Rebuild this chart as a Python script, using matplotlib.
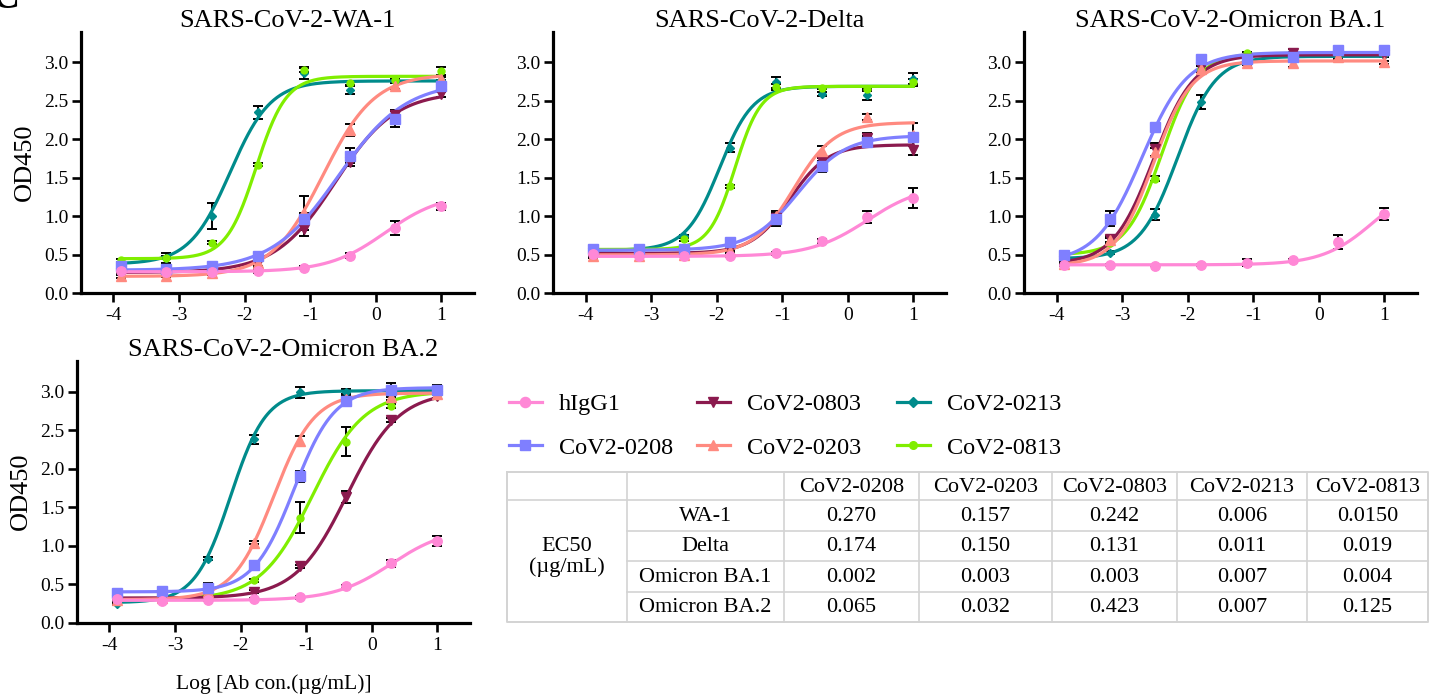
import numpy as np
import matplotlib
matplotlib.use("Agg")
import matplotlib.pyplot as plt
from matplotlib.lines import Line2D

plt.rcParams['font.family'] = ['Liberation Serif', 'DejaVu Serif']

# ---------------- data ----------------
conc = [0.000128, 0.00064, 0.0032, 0.016, 0.08, 0.4, 2.0, 10.0]   # ug/mL
series = ["hIgG1", "CoV2-0208", "CoV2-0803", "CoV2-0203", "CoV2-0213", "CoV2-0813"]
panels = ["SARS-CoV-2-WA-1", "SARS-CoV-2-Delta", "SARS-CoV-2-Omicron BA.1", "SARS-CoV-2-Omicron BA.2"]

# OD450 means per panel, per series (order as `series`)
wa1_y = [
    [0.29, 0.28, 0.28, 0.29, 0.33, 0.49, 0.85, 1.13],
    [0.35, 0.32, 0.35, 0.48, 0.97, 1.79, 2.27, 2.69],
    [0.27, 0.27, 0.28, 0.39, 0.83, 1.71, 2.32, 2.59],
    [0.22, 0.23, 0.26, 0.39, 1.04, 2.12, 2.69, 2.79],
    [0.37, 0.46, 1.00, 2.35, 2.86, 2.64, 2.76, 2.77],
    [0.43, 0.46, 0.66, 1.67, 2.90, 2.73, 2.77, 2.89],
]
wa1_err = [
    [0.02, 0.02, 0.02, 0.02, 0.02, 0.03, 0.09, 0.05],
    [0.02, 0.02, 0.02, 0.04, 0.08, 0.10, 0.11, 0.08],
    [0.02, 0.02, 0.02, 0.05, 0.08, 0.05, 0.05, 0.04],
    [0.02, 0.02, 0.02, 0.03, 0.22, 0.08, 0.04, 0.05],
    [0.02, 0.06, 0.17, 0.09, 0.08, 0.05, 0.03, 0.04],
    [0.02, 0.02, 0.02, 0.02, 0.03, 0.02, 0.02, 0.05],
]
delta_y = [
    [0.51, 0.48, 0.48, 0.48, 0.52, 0.68, 0.99, 1.24],
    [0.58, 0.57, 0.58, 0.67, 0.97, 1.65, 1.97, 2.03],
    [0.52, 0.52, 0.53, 0.57, 0.98, 1.72, 2.02, 1.86],
    [0.48, 0.48, 0.50, 0.55, 1.00, 1.85, 2.29, 2.06],
    [0.47, 0.56, 0.74, 1.89, 2.74, 2.59, 2.58, 2.79],
    [0.50, 0.50, 0.70, 1.39, 2.68, 2.67, 2.66, 2.74],
]
delta_err = [
    [0.01, 0.01, 0.01, 0.01, 0.02, 0.02, 0.08, 0.13],
    [0.02, 0.02, 0.02, 0.02, 0.10, 0.07, 0.07, 0.05],
    [0.01, 0.01, 0.01, 0.02, 0.05, 0.04, 0.06, 0.06],
    [0.01, 0.01, 0.01, 0.02, 0.04, 0.07, 0.04, 0.15],
    [0.01, 0.01, 0.02, 0.06, 0.07, 0.03, 0.07, 0.07],
    [0.01, 0.01, 0.02, 0.02, 0.04, 0.02, 0.03, 0.04],
]
ba1_y = [
    [0.37, 0.37, 0.36, 0.37, 0.40, 0.43, 0.67, 1.03],
    [0.50, 0.97, 2.16, 3.04, 3.04, 3.07, 3.16, 3.16],
    [0.42, 0.71, 1.87, 2.94, 3.04, 3.12, 3.10, 3.10],
    [0.38, 0.69, 1.84, 2.92, 2.99, 2.99, 3.07, 3.00],
    [0.40, 0.53, 1.02, 2.49, 3.06, 3.12, 3.10, 3.10],
    [0.50, 0.65, 1.49, 2.92, 3.12, 3.10, 3.12, 3.12],
]
ba1_err = [
    [0.01, 0.01, 0.01, 0.01, 0.05, 0.02, 0.09, 0.08],
    [0.02, 0.10, 0.03, 0.05, 0.02, 0.06, 0.03, 0.03],
    [0.02, 0.04, 0.08, 0.05, 0.02, 0.05, 0.03, 0.03],
    [0.02, 0.03, 0.05, 0.04, 0.02, 0.05, 0.02, 0.02],
    [0.01, 0.02, 0.07, 0.09, 0.02, 0.05, 0.03, 0.03],
    [0.01, 0.02, 0.03, 0.03, 0.02, 0.03, 0.02, 0.02],
]
ba2_y = [
    [0.31, 0.28, 0.29, 0.31, 0.33, 0.47, 0.77, 1.06],
    [0.38, 0.41, 0.45, 0.75, 1.90, 2.88, 3.02, 3.02],
    [0.30, 0.32, 0.36, 0.40, 0.73, 1.63, 2.63, 2.94],
    [0.30, 0.32, 0.40, 1.04, 2.36, 2.90, 2.93, 2.97],
    [0.24, 0.31, 0.83, 2.38, 2.99, 3.00, 3.00, 3.01],
    [0.28, 0.30, 0.35, 0.55, 1.36, 2.35, 2.81, 2.94],
]
ba2_err = [
    [0.01, 0.01, 0.01, 0.01, 0.02, 0.02, 0.05, 0.07],
    [0.02, 0.02, 0.07, 0.03, 0.07, 0.05, 0.09, 0.07],
    [0.01, 0.01, 0.03, 0.02, 0.02, 0.08, 0.02, 0.03],
    [0.01, 0.01, 0.02, 0.02, 0.06, 0.04, 0.04, 0.05],
    [0.01, 0.01, 0.02, 0.06, 0.07, 0.03, 0.06, 0.05],
    [0.01, 0.01, 0.02, 0.02, 0.20, 0.19, 0.03, 0.03],
]

# EC50 table (ug/mL) as printed
ec50_cols = ["CoV2-0208", "CoV2-0203", "CoV2-0803", "CoV2-0213", "CoV2-0813"]
ec50_rows = ["WA-1", "Delta", "Omicron BA.1", "Omicron BA.2"]
ec50_text = [
    ["0.270", "0.157", "0.242", "0.006", "0.0150"],
    ["0.174", "0.150", "0.131", "0.011", "0.019"],
    ["0.002", "0.003", "0.003", "0.007", "0.004"],
    ["0.065", "0.032", "0.423", "0.007", "0.125"],
]

# 4PL fit parameters (bottom, top, EC50 ug/mL, hill), order as `series`
wa1_fit = [(0.28, 1.30, 1.41, 1.0), (0.30, 2.75, 0.270, 0.85), (0.27, 2.62, 0.242, 0.95),
           (0.22, 2.85, 0.157, 1.1), (0.38, 2.76, 0.006, 1.4), (0.45, 2.82, 0.015, 1.9)]
delta_fit = [(0.48, 1.42, 2.0, 1.0), (0.56, 2.05, 0.174, 1.2), (0.52, 1.93, 0.131, 1.5),
             (0.50, 2.22, 0.150, 1.4), (0.56, 2.69, 0.011, 1.7), (0.57, 2.69, 0.019, 2.2)]
ba1_fit = [(0.37, 1.50, 7.1, 1.1), (0.40, 3.13, 0.002, 1.25), (0.38, 3.10, 0.003, 1.4),
           (0.36, 3.02, 0.003, 1.5), (0.45, 3.08, 0.007, 1.5), (0.50, 3.12, 0.004, 1.6)]
ba2_fit = [(0.29, 1.24, 2.0, 1.0), (0.40, 3.05, 0.065, 1.4), (0.32, 3.00, 0.423, 1.1),
           (0.30, 2.98, 0.032, 1.4), (0.26, 3.01, 0.007, 1.6), (0.30, 3.00, 0.125, 1.1)]

panel_y = [wa1_y, delta_y, ba1_y, ba2_y]
panel_err = [wa1_err, delta_err, ba1_err, ba2_err]
panel_fit = [wa1_fit, delta_fit, ba1_fit, ba2_fit]

# ---------------- styles ----------------
colors = {"hIgG1": "#FF88D6", "CoV2-0208": "#7F7FFF", "CoV2-0803": "#8B1A4E",
          "CoV2-0203": "#FF8A80", "CoV2-0213": "#008B8B", "CoV2-0813": "#80EE00"}
markers = {"hIgG1": "o", "CoV2-0208": "s", "CoV2-0803": "v",
           "CoV2-0203": "^", "CoV2-0213": "D", "CoV2-0813": "o"}
msizes = {"hIgG1": 6.8, "CoV2-0208": 6.8, "CoV2-0803": 6.8,
          "CoV2-0203": 6.8, "CoV2-0213": 4.2, "CoV2-0813": 5.0}
draw_order = ["CoV2-0213", "CoV2-0813", "CoV2-0803", "CoV2-0203", "CoV2-0208", "hIgG1"]

W, H = 1438, 698
fig = plt.figure(figsize=(W / 100, H / 100), dpi=100)

def px_axes(l, t, r, b):
    return fig.add_axes([l / W, 1 - b / H, (r - l) / W, (b - t) / H])

boxes = [(80.7, 31.7, 474, 293.3), (553, 31.7, 946, 293.3),
         (1024, 31.7, 1417, 293.3), (76.7, 360.7, 470, 622.7)]

logx = np.log10(conc)
xs = np.linspace(logx[0], logx[-1], 300)

def four_pl(x, b, t, ec, h):
    return b + (t - b) / (1 + 10 ** ((np.log10(ec) - x) * h))

for i, (title, box) in enumerate(zip(panels, boxes)):
    ax = px_axes(*box)
    for s in draw_order:
        k = series.index(s)
        y = panel_y[i][k]
        e = panel_err[i][k]
        b, t, ec, h = panel_fit[i][k]
        ax.errorbar(logx, y, yerr=e, fmt='none', ecolor='black', elinewidth=1.4,
                    capsize=3.8, capthick=1.4, zorder=2)
        ax.plot(xs, four_pl(xs, b, t, ec, h), color=colors[s], lw=2.3, zorder=3)
        ax.plot(logx, y, linestyle='none', marker=markers[s], ms=msizes[s],
                color=colors[s], mec=colors[s], zorder=4)
    ax.set_xlim(-4.5, 1.5)
    ax.set_ylim(0, 3.4)
    ax.set_xticks([-4, -3, -2, -1, 0, 1])
    ax.set_xticklabels(["-4", "-3", "-2", "-1", "0", "1"])
    ax.set_yticks([0, 0.5, 1.0, 1.5, 2.0, 2.5, 3.0])
    ax.set_yticklabels(["0.0", "0.5", "1.0", "1.5", "2.0", "2.5", "3.0"])
    for sp in ["top", "right"]:
        ax.spines[sp].set_visible(False)
    for sp in ["left", "bottom"]:
        ax.spines[sp].set_linewidth(2.3)
    ax.tick_params(axis='both', length=6.5, width=1.9, labelsize=14)
    ax.tick_params(axis='y', pad=2.5)
    ax.tick_params(axis='x', pad=3.5)
    ax.set_title(title, fontsize=19, pad=1.5, x=0.525)
    if i in (0, 3):
        ax.set_ylabel("OD450", fontsize=19, labelpad=6)
    if i == 3:
        ax.set_xlabel("Log [Ab con.(\u00b5g/mL)]", fontsize=15.5, labelpad=15)

# ---------------- legend (3 columns) ----------------
handles = {s: Line2D([], [], color=colors[s], lw=2.3, marker=markers[s],
                     ms=msizes[s] + 0.5) for s in series}
legend_cols = [["hIgG1", "CoV2-0208"], ["CoV2-0803", "CoV2-0203"], ["CoV2-0213", "CoV2-0813"]]
legend_x = [509, 697, 897]
for names, lx in zip(legend_cols, legend_x):
    leg = fig.legend([handles[n] for n in names], names, loc='upper left',
                     bbox_to_anchor=(lx / W, 1 - 393 / H), frameon=False,
                     fontsize=17.5, handlelength=1.35, handletextpad=0.7,
                     labelspacing=0.9, borderpad=0, borderaxespad=0)

# ---------------- EC50 table ----------------
tax = fig.add_axes([0, 0, 1, 1], facecolor='none')
tax.set_xlim(0, W)
tax.set_ylim(H, 0)
tax.axis('off')
col_x = [507, 627, 784, 919, 1052, 1177, 1307, 1428]
row_y = [472, 500, 530.5, 561, 591.5, 622]
gc = "#D3D3D3"
lw = 1.2
# outer border
tax.plot([col_x[0], col_x[-1], col_x[-1], col_x[0], col_x[0]],
         [row_y[0], row_y[0], row_y[-1], row_y[-1], row_y[0]], color=gc, lw=1.4)
for cx in col_x[1:-1]:
    tax.plot([cx, cx], [row_y[0], row_y[-1]], color=gc, lw=lw)
tax.plot([col_x[0], col_x[-1]], [row_y[1], row_y[1]], color=gc, lw=lw)
for ry in row_y[2:-1]:
    tax.plot([col_x[1], col_x[-1]], [ry, ry], color=gc, lw=lw)
fs_t = 16
for j, c in enumerate(ec50_cols):
    cx = (col_x[j + 2] + col_x[j + 3]) / 2
    tax.text(cx, (row_y[0] + row_y[1]) / 2 + 1, c, ha='center', va='center', fontsize=fs_t)
for r, rn in enumerate(ec50_rows):
    cy = (row_y[r + 1] + row_y[r + 2]) / 2 + 1
    tax.text((col_x[1] + col_x[2]) / 2, cy, rn, ha='center', va='center', fontsize=fs_t)
    for j in range(len(ec50_cols)):
        cx = (col_x[j + 2] + col_x[j + 3]) / 2
        tax.text(cx, cy, ec50_text[r][j], ha='center', va='center', fontsize=fs_t)
tax.text((col_x[0] + col_x[1]) / 2, (row_y[1] + row_y[-1]) / 2 - 4, "EC50\n(\u00b5g/mL)",
         ha='center', va='center', fontsize=fs_t, linespacing=1.05)

# panel letter (only its lower-right part is inside the figure, as in the original)
fig.text(5 / W, 1 - 8 / H, "C", fontsize=28, fontweight='bold', ha='center', va='baseline')

fig.savefig("out.png", dpi=100)
